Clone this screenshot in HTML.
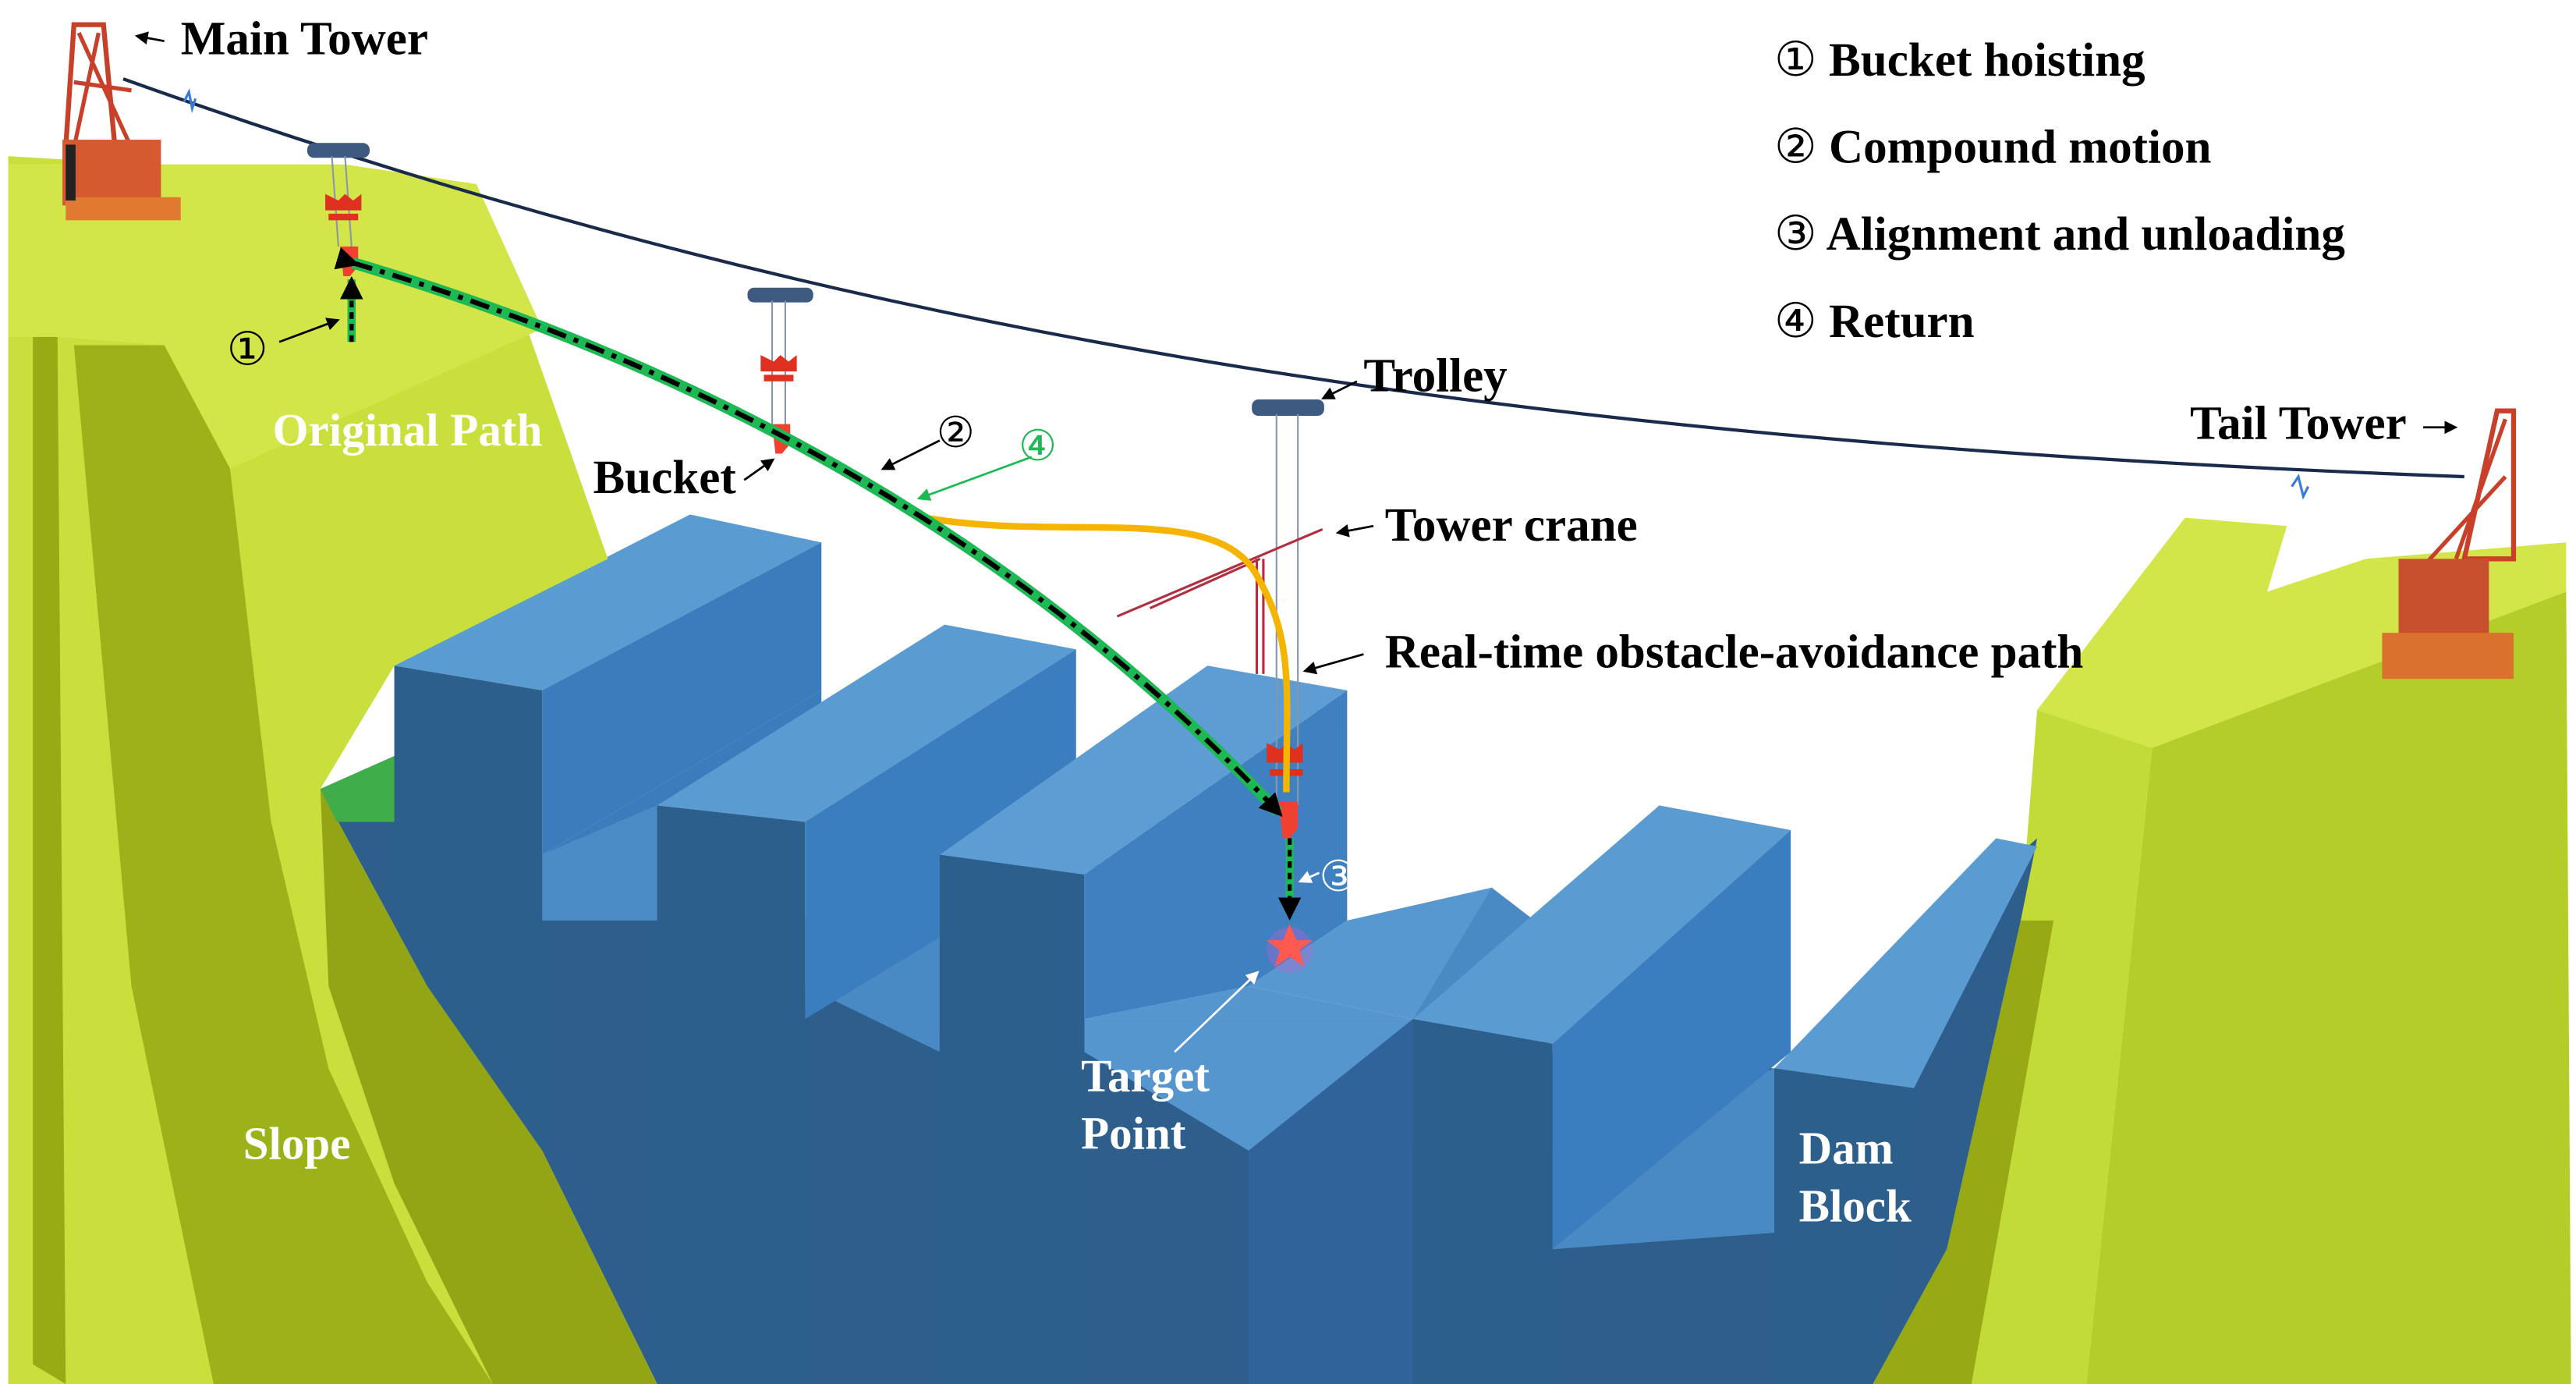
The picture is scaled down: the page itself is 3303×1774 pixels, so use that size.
<!DOCTYPE html>
<html><head><meta charset="utf-8"><style>
html,body{margin:0;padding:0;background:#fff;}
svg{display:block;}
text{font-family:"Liberation Serif","DejaVu Serif",serif;font-weight:bold;}
.n{font-weight:normal;font-family:"DejaVu Sans",sans-serif;}
</style></head><body>
<svg width="3303" height="1774" viewBox="0 0 1568 842" preserveAspectRatio="none" xmlns="http://www.w3.org/2000/svg">
<defs>
<marker id="ak" markerWidth="8" markerHeight="8" refX="6" refY="4" orient="auto" markerUnits="userSpaceOnUse"><path d="M0,0 L8,4 L0,8 Z" fill="#000"/></marker>
<marker id="ag" markerWidth="8" markerHeight="8" refX="6" refY="4" orient="auto" markerUnits="userSpaceOnUse"><path d="M0,0 L8,4 L0,8 Z" fill="#1db954"/></marker>
<marker id="aw" markerWidth="8" markerHeight="8" refX="6" refY="4" orient="auto" markerUnits="userSpaceOnUse"><path d="M0,0 L8,4 L0,8 Z" fill="#fff"/></marker>
<marker id="big" markerWidth="14" markerHeight="14" refX="10" refY="7" orient="auto" markerUnits="userSpaceOnUse"><path d="M0,0 L14,7 L0,14 Z" fill="#000"/></marker>
</defs>
<rect width="1568" height="842" fill="#fff"/>

<!-- Right landform -->
<polygon points="1240,432 1330,315 1392,320 1380,360 1440,340 1562,330 1562,360 1310,455" fill="#d2e64a"/>
<polygon points="1310,455 1562,360 1565,842 1270,842" fill="#b5cd28"/>
<polygon points="1240,432 1310,455 1270,842 1140,842 1185,760 1230,560" fill="#c3db36"/>
<polygon points="1230,560 1250,560 1200,842 1140,842 1185,760" fill="#97a915"/>

<!-- Dam base -->
<polygon points="195,480 240,460 330,520 400,490 490,600 572,560 660,620 860,620 908,540 945,640 1080,650 1240,510 1230,560 1185,760 1140,842 400,842 330,700 260,600" fill="#2e5e8b"/>
<polygon points="330,520 500,420 500,470 400,490" fill="#3a7cbc"/>
<polygon points="330,520 400,490 400,560 330,560" fill="#4c8cc6"/>
<polygon points="490,560 572,520 572,640 490,600" fill="#4a8ac4"/>
<polygon points="660,620 860,620 860,700 760,700 660,640" fill="#5596cf"/>
<polygon points="945,700 1080,650 1080,750 945,760" fill="#4a8ac4"/>

<!-- Block 1 -->
<polygon points="240,405 420,313 500,330 330,420" fill="#5a9bd2"/>
<polygon points="330,420 500,330 500,420 330,520" fill="#3a7cbc"/>
<polygon points="240,405 330,420 330,842 240,842" fill="#2d5f8c"/>
<!-- Block 2 -->
<polygon points="400,490 575,380 655,395 490,500" fill="#5a9bd2"/>
<polygon points="490,500 655,395 655,520 490,620" fill="#3b7ebf"/>
<polygon points="400,490 490,500 490,842 400,842" fill="#2d5f8c"/>
<!-- Block 3 -->
<polygon points="572,520 735,405 820,420 660,532" fill="#5d9dd4"/>
<polygon points="660,532 820,420 820,560 760,600 660,620" fill="#3e80c0"/>
<polygon points="660,620 760,600 860,620" fill="#5596cf"/>
<polygon points="760,600 820,560 908,540 860,620" fill="#5898d0"/>
<polygon points="860,620 908,540 960,580" fill="#4a8ac4"/>
<polygon points="572,520 660,532 660,842 572,842" fill="#2d5f8c"/>
<polygon points="760,700 860,620 860,842 760,842" fill="#30639a"/>
<!-- Block 4 -->
<polygon points="860,620 1010,490 1090,505 945,635" fill="#5a9bd2"/>
<polygon points="945,635 1090,505 1090,640 945,760" fill="#3b7ebf"/>
<polygon points="860,620 945,635 945,842 860,842" fill="#2d5f8c"/>
<!-- Block 5 -->
<polygon points="1080,650 1215,510 1240,515 1165,662" fill="#5a9bd2"/>
<polygon points="1080,650 1165,662 1140,842 1080,842" fill="#2d5f8c"/>

<!-- Left landform (drawn over blocks) -->
<polygon points="5,95 290,112 370,340 240,405 195,480 260,600 330,700 400,842 5,842" fill="#c9e03c"/>
<polygon points="5,100 210,100 290,112 330,200 140,285 100,210 35,205 5,205" fill="#d2e64a"/>
<polygon points="20,205 35,205 40,842 20,830" fill="#98ab14"/>
<polygon points="45,210 100,210 140,285 165,500 200,650 260,780 300,842 130,842 80,600" fill="#9db218"/>
<polygon points="195,480 260,600 330,700 400,842 300,842 240,720 200,600" fill="#93a514"/>
<polygon points="195,480 240,460 240,500 205,500" fill="#3fae4a"/>

<!-- Cable -->
<path d="M75,48 C500,200 900,268 1500,290" fill="none" stroke="#1a2a4a" stroke-width="2"/>
<path d="M112,62 l3,-6 l2,10 l2,-6" fill="none" stroke="#3a7bd5" stroke-width="1.5"/>
<path d="M1395,296 l4,-6 l3,12 l3,-6" fill="none" stroke="#3a7bd5" stroke-width="1.5"/>

<!-- Main tower -->
<g>
<path d="M45,15 L63,15 L70,90 L40,90 Z" fill="none" stroke="#c8402a" stroke-width="3"/>
<path d="M48,20 L80,90 M60,20 L45,90 M45,50 L80,55" stroke="#c8402a" stroke-width="2.5" fill="none"/>
<rect x="38" y="85" width="60" height="40" fill="#d65a30"/>
<rect x="40" y="120" width="70" height="14" fill="#e07a30"/>
<rect x="40" y="88" width="6" height="34" fill="#222"/>
</g>
<!-- Tail tower -->
<g>
<path d="M1520,250 L1530,250 L1530,340 L1500,340 Z" fill="none" stroke="#c8402a" stroke-width="3"/>
<path d="M1525,255 L1495,340 M1470,350 L1525,290" stroke="#c8402a" stroke-width="2.5"/>
<rect x="1460" y="340" width="55" height="50" fill="#c8502c"/>
<rect x="1450" y="385" width="80" height="28" fill="#d9722e"/>
</g>

<!-- Trolleys & buckets -->
<g fill="#3d5a80">
<rect x="187" y="87" width="38" height="9" rx="4"/>
<rect x="455" y="175" width="40" height="9" rx="4"/>
<rect x="762" y="243" width="44" height="10" rx="4"/>
</g>
<g stroke="#8896aa" stroke-width="1">
<line x1="202" y1="95" x2="206" y2="150"/><line x1="210" y1="95" x2="214" y2="150"/>
<line x1="470" y1="183" x2="470" y2="262"/><line x1="478" y1="183" x2="478" y2="262"/>
<line x1="777" y1="252" x2="777" y2="490"/><line x1="790" y1="252" x2="790" y2="490"/>
</g>
<g fill="#e03020">
<path d="M198,118 l8,4 l4,-4 l5,4 l5,-4 v10 h-22z"/><rect x="200" y="130" width="18" height="4"/>
<path d="M207,150 h11 v12 l-5,6 h-4z" fill="#f04030"/>
<path d="M463,216 l8,4 l4,-4 l5,4 l5,-4 v10 h-22z"/><rect x="465" y="228" width="18" height="4"/>
<path d="M470,258 h11 v12 l-5,6 h-4z" fill="#f04030"/>
<path d="M771,452 l8,4 l4,-4 l5,4 l5,-4 v12 h-22z"/><rect x="773" y="468" width="20" height="4"/>
<path d="M778,488 h12 v16 l-5,6 h-4z" fill="#f04030"/>
</g>

<!-- Tower crane -->
<g stroke="#b03040" stroke-width="1.5" fill="none">
<line x1="765" y1="340" x2="765" y2="410"/><line x1="769" y1="340" x2="769" y2="410"/>
<line x1="680" y1="375" x2="805" y2="322"/>
<line x1="700" y1="370" x2="767" y2="340"/>
</g>

<!-- Paths -->
<path d="M563,315 C650,330 740,305 765,350 C788,390 783,420 783,482" fill="none" stroke="#f5b400" stroke-width="4"/>
<path d="M215,160 Q560,262 778,494" fill="none" stroke="#1db954" stroke-width="7"/>
<path d="M215,160 Q560,262 778,494" fill="none" stroke="#000" stroke-width="3" stroke-dasharray="12,5,3,5" marker-end="url(#big)" marker-start="url(#big)"/>
<line x1="214" y1="170" x2="214" y2="208" stroke="#1db954" stroke-width="5"/>
<line x1="214" y1="208" x2="214" y2="172" stroke="#000" stroke-width="2.5" stroke-dasharray="4,3" marker-end="url(#big)"/>
<line x1="785" y1="510" x2="785" y2="556" stroke="#1db954" stroke-width="5"/>
<line x1="785" y1="510" x2="785" y2="556" stroke="#000" stroke-width="2.5" stroke-dasharray="4,3" marker-end="url(#big)"/>

<!-- Target star -->
<circle cx="785" cy="578" r="14" fill="#c060d0" opacity="0.35"/>
<polygon points="785,562 789,572 799,572 791,578 794,588 785,582 776,588 779,578 771,572 781,572" fill="#ff5a50"/>

<!-- Leader arrows -->
<g stroke="#000" stroke-width="1.3">
<line x1="100" y1="25" x2="84" y2="22" marker-end="url(#ak)"/>
<line x1="170" y1="208" x2="205" y2="195" marker-end="url(#ak)"/>
<line x1="453" y1="292" x2="470" y2="280" marker-end="url(#ak)"/>
<line x1="572" y1="268" x2="538" y2="285" marker-end="url(#ak)"/>
<line x1="826" y1="232" x2="806" y2="242" marker-end="url(#ak)"/>
<line x1="1475" y1="260" x2="1494" y2="260" marker-end="url(#ak)"/>
<line x1="836" y1="320" x2="815" y2="324" marker-end="url(#ak)"/>
<line x1="830" y1="398" x2="795" y2="408" marker-end="url(#ak)"/>
</g>
<line x1="628" y1="278" x2="560" y2="303" stroke="#1db954" stroke-width="1.3" marker-end="url(#ag)"/>
<line x1="803" y1="531" x2="792" y2="536" stroke="#fff" stroke-width="1.3" marker-end="url(#aw)"/>
<line x1="715" y1="640" x2="765" y2="592" stroke="#fff" stroke-width="1.3" marker-end="url(#aw)"/>

<!-- Labels -->
<g font-size="29" fill="#000">
<text x="110" y="33">Main Tower</text>
<text x="1080" y="46"><tspan class="n">①</tspan> Bucket hoisting</text>
<text x="1080" y="99"><tspan class="n">②</tspan> Compound motion</text>
<text x="1080" y="152"><tspan class="n">③</tspan> Alignment and unloading</text>
<text x="1080" y="205"><tspan class="n">④</tspan> Return</text>
<text x="830" y="238">Trolley</text>
<text x="1333" y="267">Tail Tower</text>
<text x="843" y="329">Tower crane</text>
<text x="843" y="406">Real-time obstacle-avoidance path</text>
<text x="361" y="300">Bucket</text>
</g>
<text x="138" y="222" font-size="28" class="n" fill="#000">①</text>
<text x="570" y="272" font-size="26" class="n" fill="#000">②</text>
<text x="620" y="280" font-size="26" class="n" fill="#1db954">④</text>
<text x="803" y="542" font-size="26" class="n" fill="#fff">③</text>
<g font-size="28" fill="#fff">
<text x="166" y="271">Original Path</text>
<text x="148" y="705">Slope</text>
<text x="658" y="664">Target</text>
<text x="658" y="699">Point</text>
<text x="1095" y="708">Dam</text>
<text x="1095" y="743">Block</text>
</g>
</svg>
</body></html>
